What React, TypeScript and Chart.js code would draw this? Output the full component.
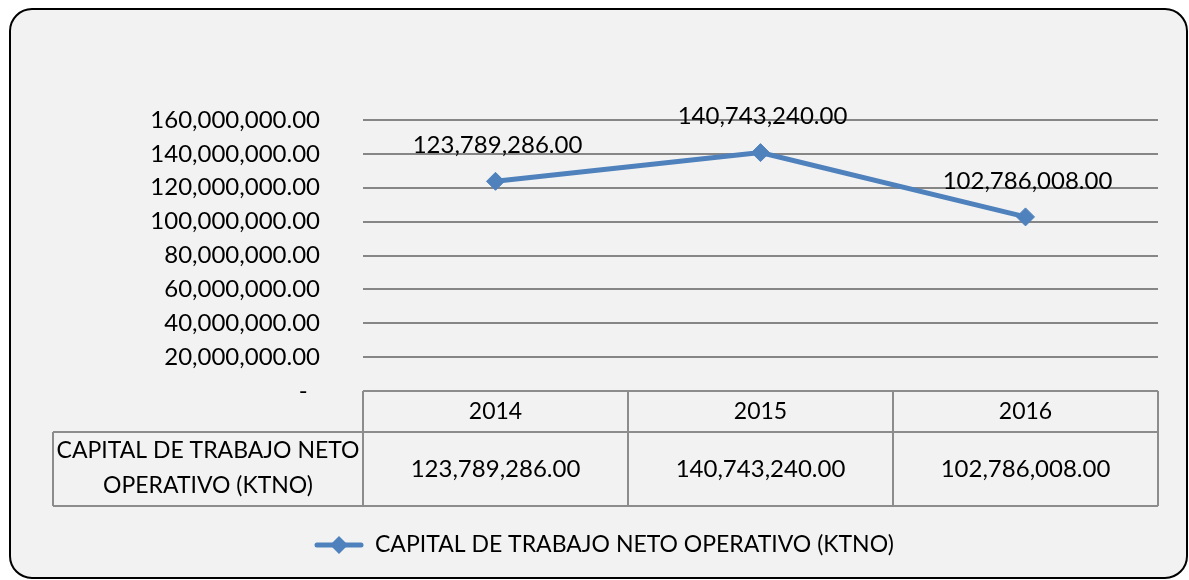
import React, { useEffect, useRef } from "react";
import { Chart, registerables } from "chart.js";

Chart.register(...registerables);

const categories = ["2014", "2015", "2016"];
const seriesLabel = "CAPITAL DE TRABAJO NETO OPERATIVO (KTNO)";
const tableRowLabel = ["CAPITAL DE TRABAJO NETO", "OPERATIVO (KTNO)"];
const ktnoValues = [123789286, 140743240, 102786008];
const yMin = 0;
const yMax = 160000000;
const yStep = 20000000;

const FONT = "Lato";
const LINE_COLOR = "#4F81BD";

function fmt(n: number): string {
  const fixed = Math.abs(n).toFixed(2);
  const [intPart, dec] = fixed.split(".");
  const withCommas = intPart.replace(/\B(?=(\d{3})+(?!\d))/g, ",");
  return (n < 0 ? "-" : "") + withCommas + "." + dec;
}

const framePlugin = {
  id: "frame",
  beforeDraw(chart: any) {
    const ctx = chart.ctx;
    ctx.save();
    const x = 10, y = 9, w = 1177, h = 569, r = 22;
    ctx.beginPath();
    ctx.moveTo(x + r, y);
    ctx.lineTo(x + w - r, y);
    ctx.arcTo(x + w, y, x + w, y + r, r);
    ctx.lineTo(x + w, y + h - r);
    ctx.arcTo(x + w, y + h, x + w - r, y + h, r);
    ctx.lineTo(x + r, y + h);
    ctx.arcTo(x, y + h, x, y + h - r, r);
    ctx.lineTo(x, y + r);
    ctx.arcTo(x, y, x + r, y, r);
    ctx.closePath();
    ctx.fillStyle = "#F2F2F2";
    ctx.fill();
    ctx.lineWidth = 2;
    ctx.strokeStyle = "#000000";
    ctx.stroke();
    ctx.restore();
  },
};

const tablePlugin = {
  id: "dataTable",
  afterDraw(chart: any) {
    const ctx = chart.ctx;
    const { left, right, bottom } = chart.chartArea;
    const xs = chart.scales.x;
    const n = categories.length;
    const colW = (right - left) / n;
    const headBottom = bottom + 41;
    const rowBottom = bottom + 115;
    const labelLeft = 53;
    ctx.save();
    ctx.strokeStyle = "#8C8C8C";
    ctx.lineWidth = 2;
    ctx.beginPath();
    ctx.moveTo(left, bottom);
    ctx.lineTo(right, bottom);
    for (let i = 0; i <= n; i++) {
      const xx = left + i * colW;
      ctx.moveTo(xx, bottom);
      ctx.lineTo(xx, rowBottom);
    }
    ctx.moveTo(labelLeft, headBottom);
    ctx.lineTo(right, headBottom);
    ctx.moveTo(labelLeft, rowBottom);
    ctx.lineTo(right, rowBottom);
    ctx.moveTo(labelLeft, headBottom);
    ctx.lineTo(labelLeft, rowBottom);
    ctx.stroke();

    ctx.fillStyle = "#000000";
    ctx.textAlign = "center";
    ctx.textBaseline = "middle";
    categories.forEach((c, i) => {
      const cx = xs.getPixelForValue(i);
      ctx.font = `23px ${FONT}`;
      ctx.fillText(c, cx, (bottom + headBottom) / 2);
      ctx.font = `24px ${FONT}`;
      ctx.fillText(fmt(ktnoValues[i]), cx, (headBottom + rowBottom) / 2);
    });
    ctx.font = `23px ${FONT}`;
    const lx = (labelLeft + left) / 2;
    ctx.fillText(tableRowLabel[0], lx, headBottom + 19);
    ctx.fillText(tableRowLabel[1], lx, headBottom + 54);

    // data labels
    ctx.font = `24px ${FONT}`;
    const meta = chart.getDatasetMeta(0);
    meta.data.forEach((pt: any, i: number) => {
      ctx.fillText(fmt(ktnoValues[i]), pt.x + 2, pt.y - 36);
    });

    // legend
    const ly = 545;
    ctx.strokeStyle = LINE_COLOR;
    ctx.lineWidth = 5;
    ctx.lineCap = "round";
    ctx.beginPath();
    ctx.moveTo(317, ly);
    ctx.lineTo(361, ly);
    ctx.stroke();
    ctx.fillStyle = LINE_COLOR;
    ctx.beginPath();
    ctx.moveTo(339, ly - 9);
    ctx.lineTo(348, ly);
    ctx.lineTo(339, ly + 9);
    ctx.lineTo(330, ly);
    ctx.closePath();
    ctx.fill();
    ctx.fillStyle = "#000000";
    ctx.textAlign = "left";
    ctx.font = `23px ${FONT}`;
    ctx.fillText(seriesLabel, 375, ly);
    ctx.restore();
  },
};

export default function App() {
  const ref = useRef<HTMLCanvasElement>(null);
  useEffect(() => {
    if (!ref.current) return;
    const chart = new Chart(ref.current, {
      type: "line",
      data: {
        labels: categories,
        datasets: [
          {
            label: seriesLabel,
            data: ktnoValues,
            borderColor: LINE_COLOR,
            backgroundColor: LINE_COLOR,
            borderWidth: 5,
            pointStyle: "rectRot",
            pointRadius: 9,
            pointBorderWidth: 1,
            pointBackgroundColor: LINE_COLOR,
            pointBorderColor: LINE_COLOR,
            tension: 0,
          },
        ],
      },
      options: {
        responsive: false,
        animation: false,
        devicePixelRatio: 1,
        layout: { padding: { top: 120, right: 31, bottom: 189, left: 0 } },
        plugins: {
          legend: { display: false },
          tooltip: { enabled: false },
          title: { display: false },
        },
        scales: {
          x: {
            type: "category",
            display: false,
            offset: true,
          },
          y: {
            min: yMin,
            max: yMax,
            border: { display: false },
            grid: { color: "#868686", lineWidth: 2, drawTicks: false },
            afterFit: (scale: any) => {
              scale.width = 363;
            },
            ticks: {
              stepSize: yStep,
              padding: 43,
              color: "#000000",
              font: { family: FONT, size: 24 },
              callback: (v: any) => (Number(v) === 0 ? "-  " : fmt(Number(v))),
            },
          },
        },
      },
      plugins: [framePlugin, tablePlugin],
    });
    return () => chart.destroy();
  }, []);
  return (
    <div style={{ position: "absolute", left: 0, top: 0, width: 1189, height: 580 }}>
      <canvas ref={ref} width={1189} height={580} style={{ display: "block" }} />
    </div>
  );
}
